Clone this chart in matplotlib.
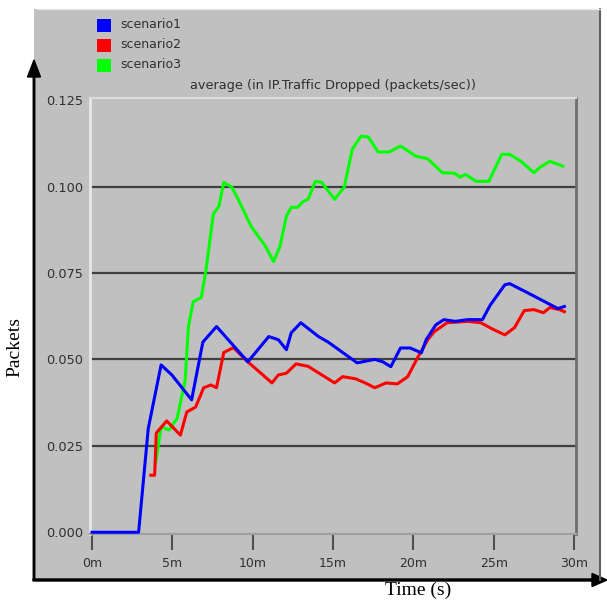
import numpy as np
import matplotlib
matplotlib.use("Agg")
import matplotlib.pyplot as plt
from matplotlib.patches import Rectangle, FancyArrow

# time in minutes, values in packets/sec
t1 = [0, 2.9, 3.5, 4.3, 4.97, 6.2, 6.9, 7.75, 9.7, 11.0, 11.6, 12.1, 12.4, 13.0, 14.1,
      14.7, 16.5, 17.6, 18.1, 18.6, 19.2, 19.8, 20.5, 20.8, 21.4, 21.9, 22.6, 23.4,
      24.3, 24.8, 25.7, 26.0, 27.1, 29.0, 29.4]
s1 = [0, 0, 0.030, 0.0484, 0.0455, 0.0383, 0.055, 0.0595, 0.0493, 0.0566, 0.0557,
      0.0528, 0.0577, 0.0606, 0.0566, 0.055, 0.049, 0.050, 0.0493, 0.0479, 0.0533,
      0.0533, 0.0519, 0.0557, 0.060, 0.0615, 0.061, 0.0615, 0.0615, 0.0658, 0.0716,
      0.0719, 0.0693, 0.0647, 0.0653]

t2 = [3.66, 3.9, 4.0, 4.65, 5.5, 5.9, 6.45, 6.95, 7.4, 7.75, 8.2, 8.8, 9.7, 11.2,
      11.6, 12.1, 12.7, 13.45, 15.1, 15.6, 16.4, 17.0, 17.6, 18.3, 19.0, 19.65, 20.3,
      20.9, 21.3, 22.1, 23.4, 24.2, 25.0, 25.7, 26.3, 26.9, 27.5, 28.1, 28.5, 29.1,
      29.4]
s2 = [0.0165, 0.0165, 0.0287, 0.0322, 0.0281, 0.0348, 0.0362, 0.0418, 0.0426, 0.0418,
      0.052, 0.0534, 0.0493, 0.0432, 0.0455, 0.046, 0.0487, 0.048, 0.0432, 0.045,
      0.0444, 0.0432, 0.0418, 0.0432, 0.0429, 0.045, 0.0508, 0.0557, 0.058, 0.0606,
      0.061, 0.0606, 0.0586, 0.0571, 0.0592, 0.0641, 0.0644, 0.0635, 0.065, 0.0644,
      0.0638]

t3 = [3.97, 4.3, 4.8, 5.3, 5.8, 6.0, 6.3, 6.8, 7.1, 7.55, 7.9, 8.2, 8.7, 9.1, 9.9,
      10.8, 11.3, 11.7, 12.1, 12.4, 12.8, 13.15, 13.45, 13.9, 14.3, 15.1, 15.7, 16.2,
      16.75, 17.2, 17.8, 18.5, 19.2, 20.15, 20.9, 21.8, 22.6, 22.9, 23.25, 23.9, 24.7,
      25.5, 26.0, 26.7, 27.5, 27.9, 28.5, 29.3]
s3 = [0.0203, 0.0305, 0.0296, 0.033, 0.044, 0.0595, 0.0667, 0.0679, 0.076, 0.092,
      0.0943, 0.1012, 0.0998, 0.0963, 0.0885, 0.0827, 0.0783, 0.0827, 0.0914, 0.094,
      0.094, 0.0957, 0.0963, 0.1015, 0.1012, 0.0963, 0.0998, 0.1108, 0.1146, 0.1143,
      0.110, 0.110, 0.1117, 0.1088, 0.108, 0.104, 0.1038, 0.1027, 0.1035, 0.1015,
      0.1015, 0.1093, 0.1093, 0.1073, 0.104, 0.1056, 0.1073, 0.1059]

names = ["scenario1", "scenario2", "scenario3"]
colors = ["#0000ff", "#ff0000", "#00ff00"]
xticks = [0, 5, 10, 15, 20, 25, 30]
xlabels = ["0m", "5m", "10m", "15m", "20m", "25m", "30m"]
yticks = [0.0, 0.025, 0.05, 0.075, 0.1, 0.125]

sans = ["Liberation Sans Narrow", "DejaVu Sans"]
serif = ["Liberation Serif", "DejaVu Serif"]
txt = "#303030"

W, H = 607, 601
fig = plt.figure(figsize=(W / 100, H / 100), dpi=100)
fig.patch.set_facecolor("white")

# background layer in pixel coordinates
bg = fig.add_axes([0, 0, 1, 1], zorder=0)
bg.set_xlim(0, W)
bg.set_ylim(H, 0)
bg.axis("off")
bg.add_patch(Rectangle((34, 9), 566, 571, facecolor="#c0c0c0", edgecolor="none"))
bg.plot([600, 600], [9, 580], color="#606060", lw=1.5)
bg.plot([37, 600], [9, 9], color="#e8e8e8", lw=1)
bg.add_patch(FancyArrow(34, 580, 0, -520, width=1.5, head_width=13, head_length=17,
                        length_includes_head=True, color="black"))
bg.add_patch(FancyArrow(33, 580, 574, 0, width=2, head_width=13, head_length=15,
                        length_includes_head=True, color="black"))

# legend
for i, (n, c) in enumerate(zip(names, colors)):
    y = 25 + i * 20
    bg.add_patch(Rectangle((97, y - 6.5), 14, 13, facecolor=c, edgecolor="none"))
    bg.text(120, y, n, fontsize=9, va="center", ha="left", color=txt, family=sans)
bg.text(333, 85, "average (in IP.Traffic Dropped (packets/sec))", fontsize=9.3,
        ha="center", va="center", color=txt, family=sans)
bg.text(418, 590, "Time (s)", fontsize=14, ha="center", va="center", family=serif)
bg.text(15, 347, "Packets", fontsize=14, ha="center", va="center", rotation=90,
        family=serif)

ax = fig.add_axes([90 / W, 1 - 534 / H, (576 - 90) / W, (534 - 98) / H], zorder=1)
ax.set_facecolor("#c0c0c0")
for yv in yticks[1:-1]:
    ax.axhline(yv, color="#404040", lw=1.6, zorder=1)
ax.plot(t3, s3, color=colors[2], lw=2.2, zorder=3)
ax.plot(t2, s2, color=colors[1], lw=2.2, zorder=4)
ax.plot(t1, s1, color=colors[0], lw=2.2, zorder=5)

ax.set_xlim(-0.125, 30.125)
ax.set_ylim(-0.0005, 0.1256)
ax.set_xticks(xticks)
ax.set_xticklabels(xlabels)
ax.set_yticks(yticks)
ax.set_yticklabels(["%.3f" % v for v in yticks])
ax.tick_params(axis="x", direction="out", length=11.5, width=1.5, color="#505050",
               labelsize=9, pad=5, labelcolor=txt)
ax.tick_params(axis="y", length=0, labelsize=9.3, pad=5, labelcolor=txt)
for lab in ax.get_xticklabels() + ax.get_yticklabels():
    lab.set_family(sans)
ax.spines["left"].set_color("#e8e8e8")
ax.spines["left"].set_linewidth(2)
ax.spines["top"].set_color("#dcdcdc")
ax.spines["top"].set_linewidth(1.5)
ax.spines["right"].set_color("#707070")
ax.spines["right"].set_linewidth(2)
ax.spines["bottom"].set_color("#a0a0a0")
ax.spines["bottom"].set_linewidth(1.5)

fig.savefig("out.png", dpi=100)
